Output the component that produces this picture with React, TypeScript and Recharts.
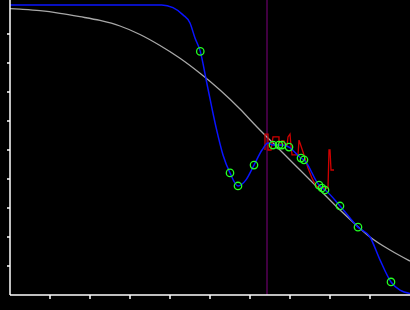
import React from "react";
import { ComposedChart, Line, Scatter, XAxis, YAxis, ReferenceLine } from "recharts";

const grayX = [0, 0.25, 0.75, 1.25, 1.75, 2.25, 2.75, 3.25, 3.75, 4.25, 4.75, 5.25, 5.75, 6.175, 6.75, 7.25, 7.75, 8.25, 8.625, 9.0, 9.5, 10];
const grayY = [9.876, 9.855, 9.803, 9.714, 9.597, 9.466, 9.276, 8.983, 8.603, 8.162, 7.645, 7.069, 6.414, 5.793, 5.0, 4.31, 3.62, 2.93, 2.45, 2.0, 1.55, 1.17];

const blueX = [0, 3.5, 3.79, 4.075, 4.325, 4.5, 4.625, 4.757, 4.92, 5.15, 5.325, 5.5, 5.7, 5.9, 6.1, 6.3, 6.45, 6.575, 6.725, 6.8, 6.975, 7.275, 7.35, 7.725, 7.8, 7.875, 8.25, 8.7, 9.0, 9.25, 9.525, 9.75, 10];
const blueY = [10.0, 10.0, 10.0, 9.91, 9.66, 9.38, 8.86, 8.4, 7.31, 5.79, 4.83, 4.21, 3.76, 3.97, 4.48, 5.0, 5.24, 5.17, 5.17, 5.17, 5.1, 4.72, 4.66, 3.79, 3.69, 3.62, 3.07, 2.34, 2.0, 1.21, 0.45, 0.17, 0.05];

const markerX = [4.757, 5.5, 5.7, 6.1, 6.575, 6.725, 6.8, 6.975, 7.275, 7.35, 7.725, 7.8, 7.875, 8.25, 8.7, 9.525];
const markerY = [8.4, 4.21, 3.76, 4.48, 5.17, 5.17, 5.17, 5.1, 4.72, 4.66, 3.79, 3.69, 3.62, 3.07, 2.34, 0.45];

const redX = [6.375, 6.375, 6.45, 6.45, 6.525, 6.575, 6.725, 6.725, 6.775, 6.8, 6.85, 6.875, 6.925, 6.95, 7.0, 7.025, 7.05, 7.2, 7.225, 7.25, 7.35, 7.45, 7.55, 7.625, 7.7, 7.95, 7.975, 8.0, 8.025, 8.1];
const redY = [5.0, 5.55, 5.55, 5.0, 5.0, 5.45, 5.45, 5.17, 5.17, 5.31, 5.31, 5.14, 5.14, 5.45, 5.55, 5.14, 4.83, 4.83, 5.34, 5.24, 4.83, 4.38, 4.03, 3.83, 3.69, 3.69, 5.0, 5.0, 4.31, 4.31];

const xTicks = [1, 2, 3, 4, 5, 6, 7, 8, 9];
const yTicks = [1, 2, 3, 4, 5, 6, 7, 8, 9];
const cursorX = 6.425;

const zip = (xs: number[], ys: number[]) => xs.map((x, i) => ({ x, y: ys[i] }));

const grayData = zip(grayX, grayY);
const blueData = zip(blueX, blueY);
const markerData = zip(markerX, markerY);
const redData = zip(redX, redY);

const Ring = (props: any) => {
  const { cx, cy } = props;
  if (cx == null || cy == null) return null;
  return <circle cx={cx} cy={cy} r={3.7} fill="none" stroke="#22ff22" strokeWidth={1.3} />;
};

const NoLabel = () => <g />;

export default function App() {
  return (
    <div style={{ position: "absolute", left: 0, top: 0, width: 410, height: 310, background: "#000" }}>
      <ComposedChart width={410} height={310} margin={{ top: 0, right: 0, bottom: 0, left: 0 }}>
        <XAxis
          type="number"
          dataKey="x"
          domain={[0, 10]}
          ticks={xTicks}
          tick={NoLabel}
          tickSize={4}
          height={15}
          stroke="#fff"
          axisLine={{ stroke: "#fff", strokeWidth: 1.5 }}
          tickLine={{ stroke: "#fff", strokeWidth: 1.5 }}
        />
        <YAxis
          type="number"
          dataKey="y"
          domain={[0, 295 / 29]}
          ticks={yTicks}
          tick={NoLabel}
          tickSize={3}
          width={10}
          stroke="#fff"
          axisLine={{ stroke: "#fff", strokeWidth: 1.5 }}
          tickLine={{ stroke: "#fff", strokeWidth: 1.5 }}
        />
        <ReferenceLine x={cursorX} stroke="#800080" strokeWidth={1} />
        <Line data={grayData} dataKey="y" type="monotone" stroke="#a8a8a8" strokeWidth={1.3} dot={false} activeDot={false} isAnimationActive={false} />
        <Line data={redData} dataKey="y" type="linear" stroke="#d00000" strokeWidth={1.3} dot={false} activeDot={false} isAnimationActive={false} />
        <Line data={blueData} dataKey="y" type="monotone" stroke="#0a14ff" strokeWidth={1.5} dot={false} activeDot={false} isAnimationActive={false} />
        <Scatter data={markerData} dataKey="y" shape={<Ring />} isAnimationActive={false} />
      </ComposedChart>
    </div>
  );
}
